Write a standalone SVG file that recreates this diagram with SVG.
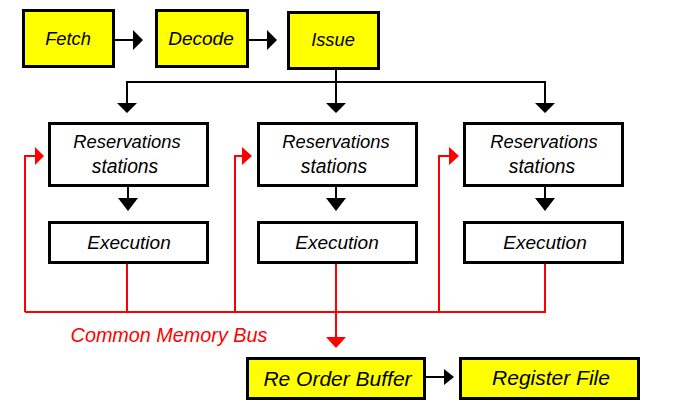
<svg xmlns="http://www.w3.org/2000/svg" width="686" height="407" viewBox="0 0 686 407">
<style>
.box{fill:#fff;stroke:#000;stroke-width:3}
.yb{fill:#ffff00;stroke:#000;stroke-width:3}
.t{font-family:"Liberation Sans",Arial,sans-serif;font-style:italic;text-anchor:middle;fill:#000}
.k{stroke:#000;stroke-width:2;fill:none}
.r{stroke:#ff0000;stroke-width:2;fill:none}
.kh{fill:#000}
.rh{fill:#ff0000}
</style>
<rect width="686" height="407" fill="#fff"/>
<g id="connectors">
<path class="k" d="M115 40H134M249 40H268M426 377H445"/>
<path class="kh" d="M133 30L143 40L133 50ZM267 30L277 40L267 50ZM444 369L454 377L444 385Z"/>
<path class="k" d="M336 70V82M127 82H545M127 81V104M336 82V104M545 81V104"/>
<path class="kh" d="M117 103H137L127 113ZM326 103H346L336 113ZM535 103H555L545 113Z"/>
<path class="k" d="M128 187V199M336 187V199M545 187V199"/>
<path class="kh" d="M118 198H138L128 211ZM326 198H346L336 211ZM535 198H555L545 211Z"/>
<path class="r" d="M127 264V312M25 312H545V264M336 264V338M25 312V156H36M235 312V156H243M439 312V156H450"/>
<path class="rh" d="M35 147L44 156L35 165ZM242 147L252 156L242 165ZM449 147L459 156L449 165ZM326 337H346L336 348Z"/>
</g>
<g id="fetch"><rect class="yb" x="23.5" y="10.5" width="90" height="56"/><text class="t" x="68" y="45" font-size="18.3">Fetch</text></g>
<g id="decode"><rect class="yb" x="156.5" y="10.5" width="91" height="56"/><text class="t" x="201" y="45" font-size="19">Decode</text></g>
<g id="issue"><rect class="yb" x="288.5" y="12.5" width="90" height="56"/><text class="t" x="333" y="46" font-size="18.3">Issue</text></g>
<g id="rs1"><rect class="box" x="49.5" y="123.5" width="158" height="62"/><text class="t" x="127" y="148" font-size="18.4">Reservations</text><text class="t" x="125" y="173" font-size="19.3">stations</text></g>
<g id="rs2"><rect class="box" x="258.5" y="123.5" width="158" height="62"/><text class="t" x="336" y="148" font-size="18.4">Reservations</text><text class="t" x="334" y="173" font-size="19.3">stations</text></g>
<g id="rs3"><rect class="box" x="464.5" y="123.5" width="158" height="62"/><text class="t" x="544" y="148" font-size="18.4">Reservations</text><text class="t" x="542" y="173" font-size="19.3">stations</text></g>
<g id="ex1"><rect class="box" x="49.5" y="222.5" width="158" height="40"/><text class="t" x="129" y="249" font-size="19">Execution</text></g>
<g id="ex2"><rect class="box" x="258.5" y="222.5" width="158" height="40"/><text class="t" x="337" y="249" font-size="19">Execution</text></g>
<g id="ex3"><rect class="box" x="464.5" y="222.5" width="158" height="40"/><text class="t" x="545" y="249" font-size="19">Execution</text></g>
<g id="bus-label"><text class="t" x="169" y="342" font-size="19.8" style="fill:#ff0000">Common Memory Bus</text></g>
<g id="rob"><rect class="yb" x="247.5" y="358.5" width="177" height="40"/><text class="t" x="337.5" y="386" font-size="21">Re Order Buffer</text></g>
<g id="regfile"><rect class="yb" x="460.5" y="358.5" width="178" height="40"/><text class="t" x="551" y="385" font-size="21">Register File</text></g>
</svg>
